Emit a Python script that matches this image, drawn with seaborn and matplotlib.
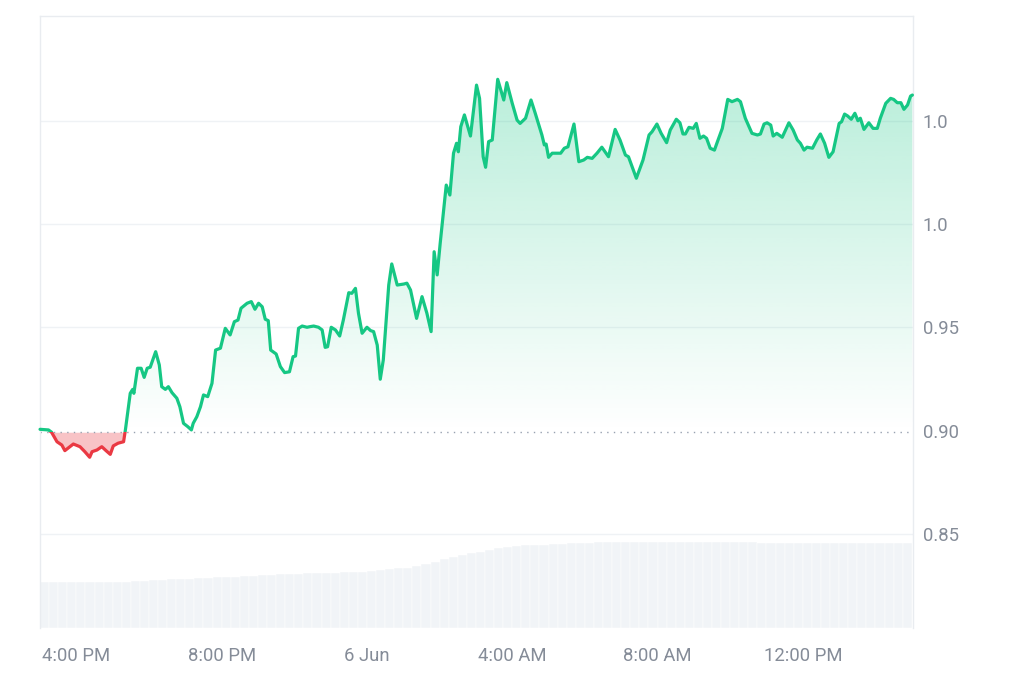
import numpy as np
import matplotlib
matplotlib.use("Agg")
import matplotlib.pyplot as plt
from matplotlib.patches import Rectangle
from matplotlib.path import Path
import seaborn as sns

# price over 24h, minutes since 5 Jun 15:00
t_min = [
    0, 14, 19, 28, 36, 41, 55, 66, 74, 82,
    86, 94, 102, 109, 116, 121, 129, 138, 141, 149,
    153, 155, 161, 167, 172, 177, 182, 191, 197, 201,
    207, 212, 218, 226, 231, 237, 244, 250, 253, 259,
    265, 270, 277, 284, 290, 298, 306, 314, 321, 327,
    332, 342, 349, 355, 361, 367, 372, 377, 381, 390,
    397, 404, 412, 418, 422, 427, 433, 441, 446, 452,
    460, 466, 471, 475, 481, 488, 495, 501, 510, 515,
    521, 526, 532, 540, 546, 551, 557, 562, 567, 576,
    581, 590, 601, 606, 612, 622, 631, 639, 646, 651,
    656, 661, 671, 677, 683, 688, 691, 695, 701, 711,
    721, 726, 732, 736, 741, 747, 756, 766, 771, 780,
    788, 793, 802, 811, 818, 824, 829, 833, 836, 840,
    846, 860, 866, 872, 882, 890, 898, 904, 912, 920,
    928, 939, 950, 958, 967, 972, 985, 996, 1006, 1011,
    1019, 1026, 1035, 1041, 1051, 1057, 1062, 1066, 1072, 1079,
    1084, 1090, 1096, 1101, 1107, 1114, 1119, 1127, 1136, 1143,
    1152, 1157, 1165, 1176, 1185, 1190, 1196, 1201, 1207, 1211,
    1217, 1226, 1237, 1244, 1251, 1256, 1262, 1267, 1276, 1283,
    1289, 1296, 1303, 1310, 1320, 1324, 1329, 1334, 1340, 1346,
    1351, 1355, 1361, 1369, 1376, 1383, 1388, 1397, 1405, 1410,
    1416, 1422, 1427, 1433, 1438, 1441,
]
price = [
    0.9008, 0.9005, 0.8994, 0.8948, 0.8932, 0.8905, 0.8937, 0.8924, 0.8900, 0.8873,
    0.8900, 0.8908, 0.8924, 0.8905, 0.8887, 0.8928, 0.8941, 0.8948, 0.9005, 0.9182,
    0.9201, 0.9182, 0.9303, 0.9303, 0.9259, 0.9303, 0.9308, 0.9383, 0.9319, 0.9214,
    0.9201, 0.9214, 0.9185, 0.9158, 0.9117, 0.9037, 0.9021, 0.9005, 0.9037, 0.9069,
    0.9117, 0.9174, 0.9166, 0.9230, 0.9391, 0.9400, 0.9496, 0.9464, 0.9528, 0.9536,
    0.9593, 0.9617, 0.9625, 0.9588, 0.9617, 0.9600, 0.9540, 0.9533, 0.9391, 0.9372,
    0.9311, 0.9282, 0.9286, 0.9359, 0.9362, 0.9496, 0.9507, 0.9501, 0.9504, 0.9507,
    0.9501, 0.9488, 0.9404, 0.9407, 0.9501, 0.9488, 0.9459, 0.9536, 0.9668, 0.9665,
    0.9689, 0.9569, 0.9472, 0.9501, 0.9485, 0.9480, 0.9415, 0.9250, 0.9343, 0.9705,
    0.9807, 0.9705, 0.9710, 0.9714, 0.9681, 0.9544, 0.9649, 0.9569, 0.9480, 0.9866,
    0.9754, 0.9907, 1.0188, 1.0140, 1.0342, 1.0390, 1.0349, 1.0470, 1.0527, 1.0425,
    1.0671, 1.0607, 1.0325, 1.0274, 1.0398, 1.0406, 1.0699, 1.0599, 1.0683, 1.0583,
    1.0502, 1.0486, 1.0511, 1.0599, 1.0535, 1.0478, 1.0430, 1.0382, 1.0386, 1.0322,
    1.0342, 1.0342, 1.0366, 1.0373, 1.0483, 1.0301, 1.0309, 1.0322, 1.0317, 1.0342,
    1.0371, 1.0325, 1.0457, 1.0406, 1.0333, 1.0325, 1.0221, 1.0309, 1.0430, 1.0446,
    1.0483, 1.0438, 1.0393, 1.0454, 1.0506, 1.0489, 1.0435, 1.0435, 1.0467, 1.0462,
    1.0486, 1.0414, 1.0425, 1.0414, 1.0366, 1.0357, 1.0398, 1.0462, 1.0602, 1.0591,
    1.0602, 1.0591, 1.0511, 1.0438, 1.0430, 1.0435, 1.0483, 1.0489, 1.0478, 1.0425,
    1.0438, 1.0419, 1.0489, 1.0454, 1.0406, 1.0390, 1.0357, 1.0371, 1.0366, 1.0406,
    1.0435, 1.0390, 1.0322, 1.0349, 1.0486, 1.0494, 1.0531, 1.0522, 1.0506, 1.0535,
    1.0499, 1.0511, 1.0457, 1.0489, 1.0462, 1.0462, 1.0511, 1.0583, 1.0607, 1.0602,
    1.0586, 1.0586, 1.0554, 1.0575, 1.0618, 1.0623,
]
base_price = 0.8994

# volume bars, one per 15 minutes
vol_t = [7.5 + 15 * i for i in range(96)]
vol_m = [
    4.57, 4.57, 4.57, 4.57, 4.57, 4.57, 4.57, 4.57, 4.62, 4.65,
    4.70, 4.74, 4.78, 4.83, 4.87, 4.91, 4.95, 4.99, 5.03, 5.07,
    5.10, 5.15, 5.19, 5.24, 5.28, 5.32, 5.36, 5.40, 5.43, 5.46,
    5.49, 5.52, 5.55, 5.57, 5.60, 5.63, 5.70, 5.82, 5.90, 5.97,
    6.03, 6.20, 6.45, 6.65, 6.88, 7.10, 7.30, 7.47, 7.65, 7.82,
    7.98, 8.08, 8.18, 8.26, 8.30, 8.35, 8.40, 8.45, 8.48, 8.51,
    8.54, 8.57, 8.59, 8.61, 8.63, 8.63, 8.63, 8.63, 8.63, 8.63,
    8.63, 8.63, 8.63, 8.63, 8.63, 8.62, 8.60, 8.58, 8.56, 8.54,
    8.53, 8.53, 8.53, 8.53, 8.53, 8.53, 8.53, 8.53, 8.53, 8.53,
    8.53, 8.53, 8.53, 8.53, 8.53, 8.53,
]

x_ticks = [60, 300, 540, 780, 1020, 1260]
x_labels = ["4:00 PM", "8:00 PM", "6 Jun", "4:00 AM", "8:00 AM", "12:00 PM"]
y_ticks = [0.85, 0.90, 0.95, 1.00, 1.05]
y_labels = ["0.85", "0.90", "0.95", "1.0", "1.0"]

GREEN = "#16c784"
RED = "#ea3943"
GREY_TXT = "#858c98"
GRID = "#eff2f5"

sns.set_theme(style="white")
plt.rcParams["font.family"] = ["Roboto", "DejaVu Sans"]

fig = plt.figure(figsize=(10.24, 6.83), dpi=100, facecolor="white")
ax = fig.add_axes([0.0391, 0.0805, 0.8525, 0.8961])
ax2 = ax.twinx()

t = np.array(t_min, dtype=float)
p = np.array(price)

# volume
ax2.bar(vol_t, vol_m, width=15, color="#f1f4f7", edgecolor="white", linewidth=0.35)
ax2.set_ylim(0, 61.2)
ax2.set_yticks([])
for s in ax2.spines.values():
    s.set_visible(False)

ax.set_zorder(ax2.get_zorder() + 1)
ax.patch.set_visible(False)

# fills
green_fill = ax.fill_between(t, p, base_price, where=p >= base_price,
                             interpolate=True, facecolor="none", edgecolor="none")
clip = Path.make_compound_path(*green_fill.get_paths())
top = p.max()
n = 256
grad = np.zeros((n, 1, 4))
grad[:, 0, :3] = matplotlib.colors.to_rgb(GREEN)
grad[:, 0, 3] = np.linspace(0.0, 0.30, n)
im = ax.imshow(grad, extent=[0, 1442, base_price, top], origin="lower",
               aspect="auto", interpolation="bilinear", zorder=1)
im.set_clip_path(clip, transform=ax.transData)

ax.fill_between(t, p, base_price, where=p < base_price, interpolate=True,
                color=RED, alpha=0.3, linewidth=0, zorder=1)

# baseline
ax.axhline(base_price, color="#98a1b0", lw=1.0, ls=(0, (1, 3.8)), zorder=2)

# price line, green above the open price and red below
sns.lineplot(x=t, y=p, ax=ax, color=GREEN, lw=2.3, zorder=3)
up_line = ax.lines[-1]
up_line.set_clip_path(Rectangle((-10, base_price), 1500, 1.0, transform=ax.transData))
sns.lineplot(x=t, y=p, ax=ax, color=RED, lw=2.3, zorder=3)
dn_line = ax.lines[-1]
dn_line.set_clip_path(Rectangle((-10, base_price - 1.0), 1500, 1.0, transform=ax.transData))

ax.set_xlim(0, 1442)
ax.set_ylim(0.8048, 1.1005)

ax.yaxis.tick_right()
ax.set_yticks(y_ticks)
ax.set_yticklabels(y_labels)
ax.set_xticks(x_ticks)
ax.set_xticklabels(x_labels)
ax.tick_params(axis="y", length=0, pad=7, labelsize=13.3, labelcolor=GREY_TXT)
ax.tick_params(axis="x", length=0, pad=14, labelsize=13.3, labelcolor=GREY_TXT)
ax.set_xlabel("")
ax.set_ylabel("")

for yv in [0.85, 0.95, 1.00, 1.05]:
    ax.axhline(yv, color=GRID, lw=1.0, zorder=0)

for name in ["top", "left", "right"]:
    ax.spines[name].set_visible(True)
    ax.spines[name].set_color("#e9ecf0")
    ax.spines[name].set_linewidth(1.0)
ax.spines["bottom"].set_visible(False)

fig.savefig("out.png", dpi=100, facecolor="white")
